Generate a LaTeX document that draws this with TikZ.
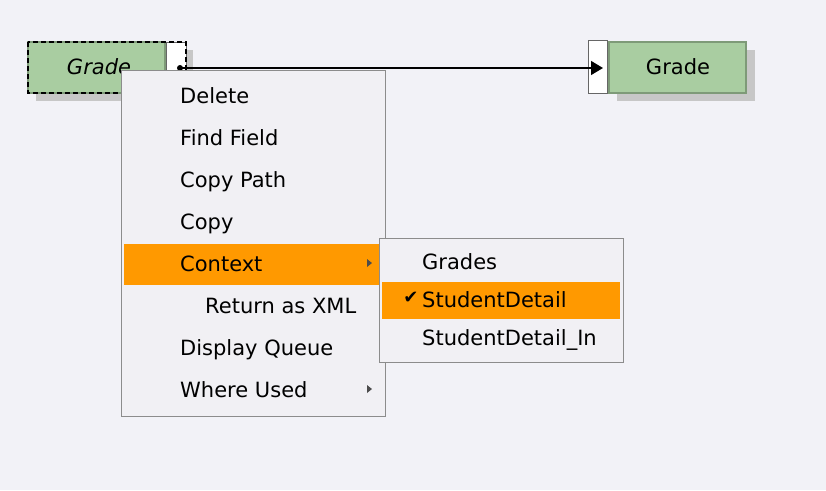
\documentclass[tikz,border=0pt]{standalone}
\usepackage{fontspec}
\setmainfont{DejaVu Sans}
\usetikzlibrary{positioning,arrows.meta}
\definecolor{canvas}{HTML}{F2F2F7}
\definecolor{boxgreen}{HTML}{A9CDA1}
\definecolor{boxedge}{HTML}{7E9A78}
\definecolor{menubg}{HTML}{F1F0F4}
\definecolor{hilite}{HTML}{FF9900}
\tikzset{
  shade box/.style = {fill=black!22, draw=none},
  field/.style = {fill=boxgreen, draw=boxedge, line width=1.2pt},
  port/.style = {fill=white, draw=black!60, line width=0.8pt},
  item/.style = {anchor=base west, inner sep=0pt, yshift=-7pt, font=\fontsize{21}{22}\selectfont},
  pointer/.style = {fill=black!70, draw=none},
}
\begin{document}
\begin{tikzpicture}[x=1pt,y=-1pt]
  \fill[canvas] (0,0) rectangle (826,490);
  \useasboundingbox (0,0) rectangle (826,490);

  % left field
  \fill[shade box] (36,50) rectangle (193,101);
  \draw[field] (28,42) rectangle (165,93);
  \draw[port] (166,42) rectangle (186,93);
  \draw[black, dash pattern=on 5pt off 3pt, line width=1.4pt] (28,42) rectangle (186,93);
  \node[font=\itshape\fontsize{21}{22}\selectfont] (gradeA) at (99,67) {Grade};
  \fill (180,68) circle (3);
  \coordinate (src) at (180,68);

  % right field
  \fill[shade box] (617,50) rectangle (755,101);
  \draw[port] (588,40) rectangle (607,93);
  \draw[field] (609,42) rectangle (746,93);
  \node[font=\fontsize{21}{22}\selectfont] (gradeB) at (678,67) {Grade};
  \coordinate (dst) at (603,68);
  \draw[line width=1.3pt,-{Triangle[length=12pt,width=14pt]}] (src) -- (dst);

  % popup menu
  \draw[fill=menubg, draw=black!45, line width=1pt] (121,70) rectangle (385,416);
  \fill[hilite] (124,244) rectangle (382,285);
  \node[item] (delete) at (180,96) {Delete};
  \node[item] (find) at (180,138) {Find Field};
  \node[item] (copypath) at (180,180) {Copy Path};
  \node[item] (copy) at (180,222) {Copy};
  \node[item] (context) at (180,264) {Context};
  \node[item] (xml) at (205,306) {Return as XML};
  \node[item] (queue) at (180,348) {Display Queue};
  \node[item] (used) at (180,390) {Where Used};
  \fill[pointer] (367,259) -- (372,263) -- (367,267) -- cycle;
  \fill[pointer] (367,385) -- (372,389) -- (367,393) -- cycle;

  % submenu
  \draw[fill=menubg, draw=black!45, line width=1pt] (379,238) rectangle (623,362);
  \fill[hilite] (382,282) rectangle (620,319);
  \node[item] (grades) at (422,262) {Grades};
  \node[item] (detail) at (422,300) {StudentDetail};
  \node[item] (detailin) at (422,338) {StudentDetail\_In};
  \node[font=\fontsize{18}{18}\selectfont, inner sep=0pt] (check) at (411,298) {✔};
\end{tikzpicture}
\end{document}
